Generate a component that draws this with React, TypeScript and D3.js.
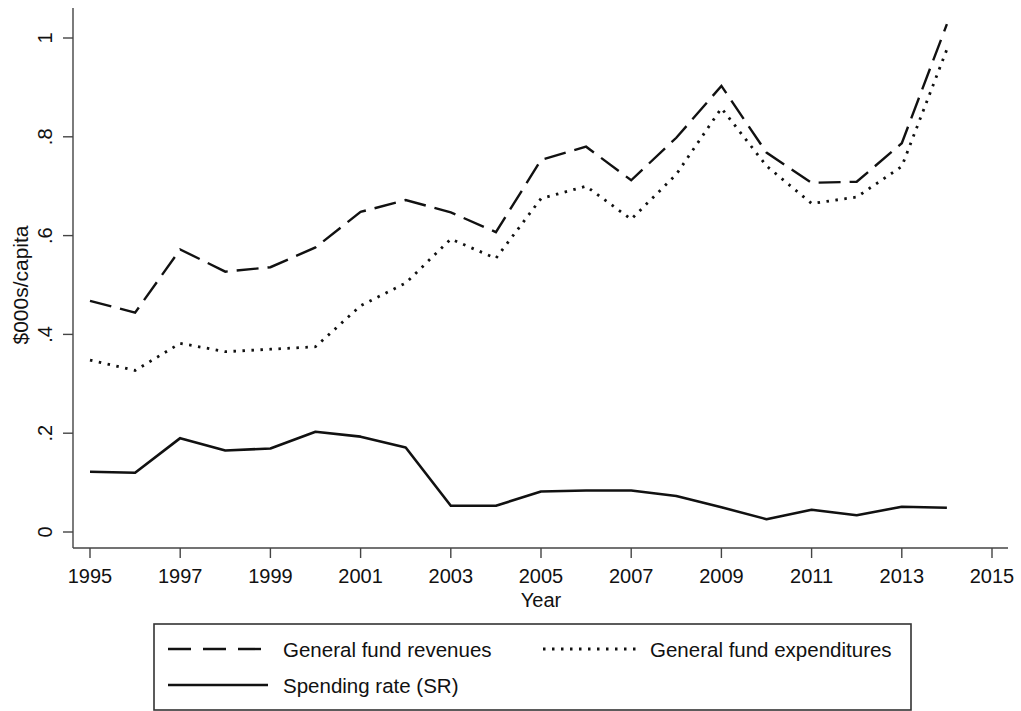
import React from "react";
import * as d3 from "d3";

const years = [1995,1996,1997,1998,1999,2000,2001,2002,2003,2004,2005,2006,2007,2008,2009,2010,2011,2012,2013,2014];
const revenues = [0.468,0.444,0.572,0.527,0.536,0.576,0.648,0.672,0.647,0.607,0.753,0.780,0.712,0.798,0.903,0.768,0.707,0.709,0.787,1.028];
const expenditures = [0.348,0.327,0.382,0.365,0.370,0.375,0.458,0.504,0.593,0.554,0.675,0.700,0.633,0.724,0.858,0.741,0.665,0.678,0.740,0.977];
const spendingRate = [0.122,0.120,0.190,0.165,0.169,0.203,0.193,0.171,0.053,0.053,0.082,0.084,0.084,0.073,0.050,0.026,0.045,0.034,0.051,0.049];
const xTicks = [1995,1997,1999,2001,2003,2005,2007,2009,2011,2013,2015];
const yTicks = [0,0.2,0.4,0.6,0.8,1];
const yTickLabels = ["0",".2",".4",".6",".8","1"];

const FONT = "'Liberation Sans', Arial, sans-serif";

export default function App() {
  const W = 1021, H = 711;
  const x = d3.scaleLinear().domain([1995, 2015]).range([90, 992]);
  const y = d3.scaleLinear().domain([0, 1]).range([532, 38]);
  const line = (vals: number[]) =>
    d3.line<number>().x((_, i) => x(years[i])).y((v) => y(v))(vals) || "";
  const axisColor = "#444";
  const dashRev = "22 9";
  const dotExp = "2.5 6.5";
  return (
    <svg width={W} height={H} style={{ position: "absolute", left: 0, top: 0, background: "#fff" }} fontFamily={FONT}>
      <rect x={0} y={0} width={W} height={H} fill="#fff" />
      {/* axes */}
      <line x1={73} x2={73} y1={8} y2={548} stroke={axisColor} strokeWidth={1.4} />
      <line x1={73} x2={1008} y1={548} y2={548} stroke={axisColor} strokeWidth={1.4} />
      {yTicks.map((t, i) => (
        <g key={"y" + i}>
          <line x1={63} x2={73} y1={y(t)} y2={y(t)} stroke={axisColor} strokeWidth={1.4} />
          <text transform={`translate(52,${y(t)}) rotate(-90)`} textAnchor="middle" fontSize={20} fill="#111">{yTickLabels[i]}</text>
        </g>
      ))}
      {xTicks.map((t) => (
        <g key={"x" + t}>
          <line x1={x(t)} x2={x(t)} y1={548} y2={558} stroke={axisColor} strokeWidth={1.4} />
          <text x={x(t)} y={583} textAnchor="middle" fontSize={20} fill="#111">{t}</text>
        </g>
      ))}
      <text transform={`translate(28,285) rotate(-90)`} textAnchor="middle" fontSize={21} fill="#111">$000s/capita</text>
      <text x={541} y={607} textAnchor="middle" fontSize={20} fill="#111">Year</text>
      {/* series */}
      <path d={line(revenues)} fill="none" stroke="#111" strokeWidth={2.4} strokeDasharray={dashRev} strokeLinejoin="miter" />
      <path d={line(expenditures)} fill="none" stroke="#111" strokeWidth={2.8} strokeDasharray={dotExp} />
      <path d={line(spendingRate)} fill="none" stroke="#111" strokeWidth={2.6} strokeLinejoin="round" />
      {/* legend */}
      <rect x={154} y={624} width={757} height={86} fill="#fff" stroke="#333" strokeWidth={1.6} />
      <line x1={168} x2={268} y1={649} y2={649} stroke="#111" strokeWidth={2.4} strokeDasharray="23 12" />
      <text x={283} y={657} fontSize={20.5} fill="#111">General fund revenues</text>
      <line x1={543} x2={640} y1={649} y2={649} stroke="#111" strokeWidth={2.8} strokeDasharray={dotExp} />
      <text x={650} y={657} fontSize={20.5} fill="#111">General fund expenditures</text>
      <line x1={168} x2={268} y1={685} y2={685} stroke="#111" strokeWidth={2.4} />
      <text x={283} y={693} fontSize={20.5} fill="#111">Spending rate (SR)</text>
    </svg>
  );
}
